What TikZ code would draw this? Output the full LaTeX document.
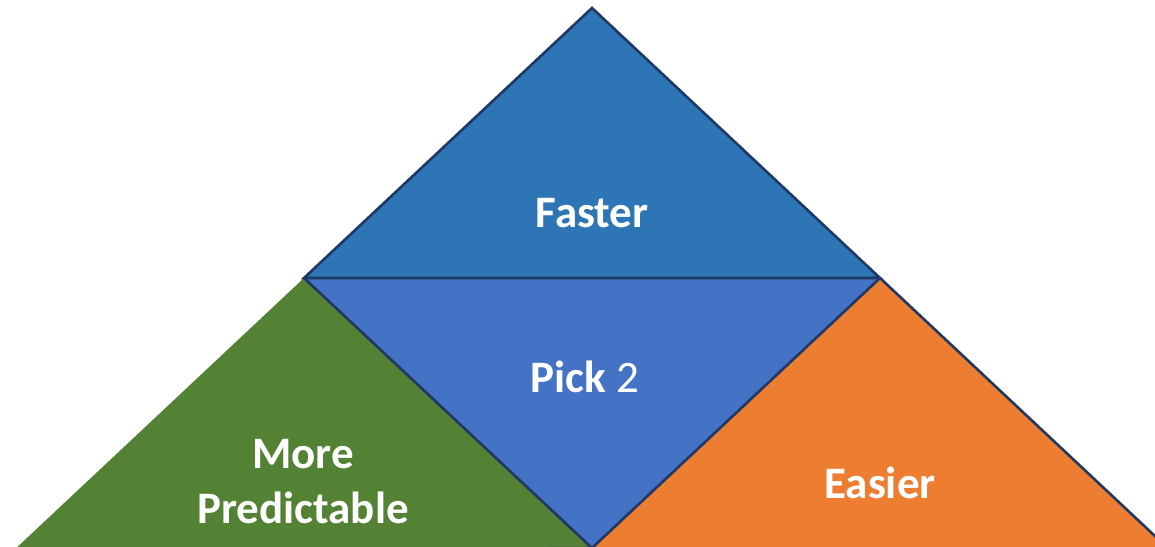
\documentclass[tikz,border=0pt]{standalone}
\usepackage{fontspec}
\setmainfont{Carlito}
\definecolor{fastblue}{HTML}{2E75B6}
\definecolor{pickblue}{HTML}{4472C4}
\definecolor{predgreen}{HTML}{548235}
\definecolor{easyorange}{HTML}{ED7D31}
\definecolor{edgenavy}{HTML}{1F3864}
\begin{document}
\begin{tikzpicture}[x=1pt,y=-1pt,
  part/.style={draw=edgenavy,line width=2.6pt,line join=miter},
  lbl/.style={text=white,font=\fontsize{45}{55}\selectfont\bfseries,align=center,inner sep=0pt}]
\useasboundingbox (0,0) rectangle (1155,546);
\clip (0,0) rectangle (1155,546);
\coordinate (apex) at (592,8);
\coordinate (ml) at (304,278);
\coordinate (mr) at (880,278);
\coordinate (bl) at (12,552);
\coordinate (bc) at (592,548);
\coordinate (br) at (1172,552);
\fill[fastblue] (apex) -- (ml) -- (mr) -- cycle;
\fill[pickblue] (ml) -- (mr) -- (bc) -- cycle;
\fill[predgreen] (ml) -- (bc) -- (bl) -- cycle;
\fill[easyorange] (mr) -- (br) -- (bc) -- cycle;
\draw[part] (apex) -- (ml) -- (mr) -- cycle;
\draw[part] (ml) -- (bc) -- (bl);
\draw[part] (mr) -- (br);
\draw[part] (mr) -- (bc);
\node[lbl] (faster) at (592,213) {Faster};
\node[lbl] (pick) at (585,377) {Pick \mdseries 2};
\node[lbl] (pred) at (303,482) {More\\Predictable};
\node[lbl] (easier) at (880,483) {Easier};
\end{tikzpicture}
\end{document}
